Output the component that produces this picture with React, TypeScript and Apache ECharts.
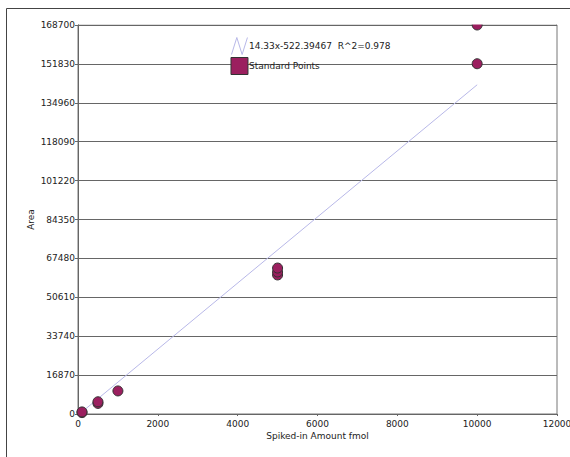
import React, { useEffect, useRef } from "react";
import * as echarts from "echarts";

const yTicks = [0, 16870, 33740, 50610, 67480, 84350, 101220, 118090, 134960, 151830, 168700];
const xTicks = [0, 2000, 4000, 6000, 8000, 10000, 12000];
const standardPoints: [number, number][] = [
  [100, 600],
  [100, 900],
  [500, 4600],
  [500, 5300],
  [1000, 10000],
  [5000, 60300],
  [5000, 61600],
  [5000, 63300],
  [10000, 151900],
  [10000, 168700],
];
const fitLine: [number, number][] = [
  [100, 910],
  [10000, 142780],
];
const fitName = "14.33x-522.39467  R^2=0.978";
const pointsName = "Standard Points";

export default function App() {
  const ref = useRef<HTMLDivElement>(null);
  useEffect(() => {
    document.body.style.margin = "0";
    const chart = echarts.init(ref.current!, undefined, { renderer: "svg" });
    const font = "DejaVu Sans, Verdana, sans-serif";
    chart.setOption({
      animation: false,
      textStyle: { fontFamily: font },
      grid: {
        left: 78,
        top: 25,
        width: 479,
        height: 389,
        show: true,
        borderColor: "#777",
        borderWidth: 1,
        backgroundColor: "#fff",
        outerBoundsMode: "none",
        containLabel: false,
      },
      legend: {
        orient: "vertical",
        left: 229,
        top: 35,
        padding: 0,
        itemWidth: 17,
        itemHeight: 17,
        itemGap: 0,
        textStyle: { fontSize: 9, color: "#222", fontFamily: font, padding: [0, 0, 0, -4] },
        data: [
          {
            name: fitName,
            icon: "path://M0,16L5,0L10,16L15,0",
            itemStyle: { color: "none", borderColor: "#b8b8e8", borderWidth: 1 },
          },
          {
            name: pointsName,
            icon: "rect",
            itemStyle: { color: "#9b1f5f", borderColor: "#333", borderWidth: 1 },
          },
        ],
      },
      xAxis: {
        type: "value",
        min: xTicks[0],
        max: xTicks[xTicks.length - 1],
        interval: 2000,
        name: "Spiked-in Amount fmol",
        nameLocation: "middle",
        nameGap: 17,
        nameMoveOverlap: false,
        nameTextStyle: { fontSize: 9, color: "#222" },
        axisLine: { show: true, lineStyle: { color: "#666" } },
        axisTick: { show: true, length: 2, lineStyle: { color: "#666" } },
        axisLabel: { fontSize: 9, color: "#222", margin: 5, formatter: (v: number) => String(v) },
        splitLine: { show: false },
      },
      yAxis: {
        type: "value",
        min: yTicks[0],
        max: yTicks[yTicks.length - 1],
        interval: 16870,
        name: "Area",
        nameLocation: "middle",
        nameGap: 43,
        nameMoveOverlap: false,
        nameTextStyle: { fontSize: 9, color: "#222" },
        axisLine: { show: true, lineStyle: { color: "#666" } },
        axisTick: { show: true, length: 3, lineStyle: { color: "#666" } },
        axisLabel: { fontSize: 9, color: "#222", margin: 3, formatter: (v: number) => String(v) },
        splitLine: { show: true, lineStyle: { color: "#666", width: 1 } },
      },
      series: [
        {
          name: fitName,
          type: "line",
          data: fitLine,
          symbol: "none",
          lineStyle: { color: "#b8b8e8", width: 1 },
          itemStyle: { color: "#b8b8e8" },
          z: 2,
        },
        {
          name: pointsName,
          type: "scatter",
          data: standardPoints,
          symbolSize: 10,
          clip: false,
          itemStyle: { color: "#9b1f5f", borderColor: "#333", borderWidth: 1, opacity: 1 },
          z: 3,
        },
      ],
      graphic: [
        {
          type: "rect",
          shape: { x: 79, y: 10, width: 477, height: 14.5 },
          style: { fill: "#fff" },
          z: 100,
          silent: true,
        },
        {
          type: "rect",
          shape: { x: 6.5, y: 8.5, width: 600, height: 500 },
          style: { fill: "none", stroke: "#444", lineWidth: 1 },
          silent: true,
        },
      ],
    });
    return () => chart.dispose();
  }, []);
  return <div ref={ref} style={{ width: 570, height: 457 }} />;
}
